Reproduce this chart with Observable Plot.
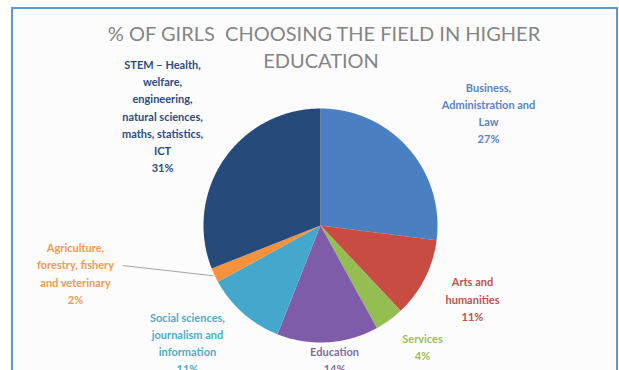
<!DOCTYPE html>
<html>
<head>
<meta charset="utf-8">
<script src="https://cdn.jsdelivr.net/npm/d3@7"></script>
<script src="https://cdn.jsdelivr.net/npm/@observablehq/plot@0.6"></script>
<style>
  html, body { margin: 0; padding: 0; background: #ffffff; width: 619px; height: 370px; overflow: hidden; }
  #wrap { position: relative; width: 619px; height: 370px; }
  #frame { position: absolute; left: 11px; top: 7px; width: 607px; height: 420px; box-sizing: border-box;
           border: 2px solid #5b9bd5; border-bottom: none; background: #fcfcfc; }
  .tline { position: absolute; transform: translateX(-50%); white-space: pre;
           font-family: Lato, sans-serif; font-size: 20px; line-height: 24px; color: #858585; }
  #chart { position: absolute; left: 0; top: 0; }
</style>
</head>
<body>
<div id="wrap">
  <div id="frame"></div>
  <div id="chart"></div>
  <span class="tline" style="left:324px; top:21px;">% OF GIRLS  CHOOSING THE FIELD IN HIGHER</span>
  <span class="tline" style="left:321px; top:48px;">EDUCATION</span>
</div>
<script>
// ---- data ----
const categories = [
  "Business, Administration and Law",
  "Arts and humanities",
  "Services",
  "Education",
  "Social sciences, journalism and information",
  "Agriculture, forestry, fishery and veterinary",
  "STEM – Health, welfare, engineering, natural sciences, maths, statistics, ICT"
];
const shares = [27, 11, 4, 14, 11, 2, 31];
const labelTexts = [
  "Business,\nAdministration and\nLaw",
  "Arts and\nhumanities",
  "Services",
  "Education",
  "Social sciences,\njournalism and\ninformation",
  "Agriculture,\nforestry, fishery\nand veterinary",
  "STEM – Health,\nwelfare,\nengineering,\nnatural sciences,\nmaths, statistics,\nICT"
];

// ---- styles / layout ----
const sliceColors = ["#4a80c2", "#c94c43", "#94bd52", "#7e5ca9", "#44a8cc", "#f7923c", "#264b7b"];
const labelColors = ["#5a83c4", "#c2514b", "#9cbc5c", "#7f6ca3", "#4fabc9", "#f4994f", "#2d4c7c"];
// label block centres, in pie-radius units (layout only)
const labelAnchors = [[1.436, 0.970], [1.299, -0.620], [0.872, -1.030], [0.120, -1.145],
                      [-1.137, -0.996], [-2.094, -0.402], [-1.350, 0.944]];
const leaderStart = [-1.692, -0.342];

// ---- build slices ----
const arcs = d3.pie().sort(null).value(d => d)(shares);
const pts = arcs.flatMap((p, i) => {
  const cat = categories[i];
  const n = Math.max(2, Math.ceil((p.endAngle - p.startAngle) / 0.008));
  const out = [{cat, x: 0, y: 0}];
  for (let k = 0; k <= n; k++) {
    const a = p.startAngle + (p.endAngle - p.startAngle) * k / n;
    out.push({cat, x: Math.sin(a), y: Math.cos(a)});
  }
  out.push({cat, x: 0, y: 0});
  return out;
});

const labels = categories.map((c, i) => ({
  text: labelTexts[i] + "\n" + shares[i] + "%",
  x: labelAnchors[i][0], y: labelAnchors[i][1], color: labelColors[i]
}));

const agriIdx = 5;
const agriMid = (arcs[agriIdx].startAngle + arcs[agriIdx].endAngle) / 2;
const leader = [{x1: leaderStart[0], y1: leaderStart[1], x2: Math.sin(agriMid) * 1.01, y2: Math.cos(agriMid) * 1.01}];

const chart = Plot.plot({
  width: 619,
  height: 370,
  margin: 0,
  style: {background: "transparent", overflow: "visible"},
  x: {domain: [-1, 1], range: [203, 437], axis: null},
  y: {domain: [-1, 1], range: [342, 108], axis: null},
  color: {domain: categories, range: sliceColors},
  marks: [
    Plot.line(pts, {x: "x", y: "y", z: "cat", fill: "cat", stroke: "none", curve: "linear"}),
    Plot.link(leader, {x1: "x1", y1: "y1", x2: "x2", y2: "y2", stroke: "#a6a6a6", strokeWidth: 1}),
    ...labels.map(d => Plot.text([d], {
      x: "x", y: "y", text: "text", fill: d.color,
      fontFamily: "Lato, sans-serif", fontWeight: "bold", fontSize: 11, lineHeight: 1.55
    }))
  ]
});
document.getElementById("chart").appendChild(chart);
</script>
</body>
</html>
